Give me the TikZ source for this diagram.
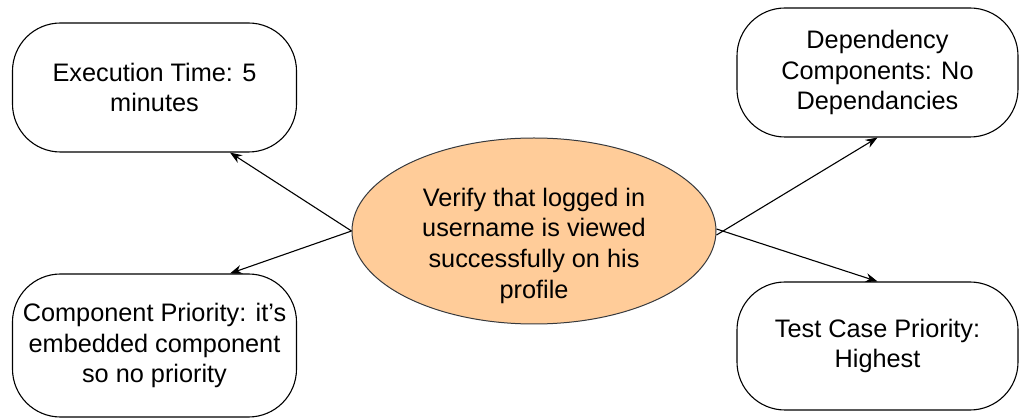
\documentclass[tikz,border=0pt]{standalone}
\usepackage{fontspec}
\setmainfont{Liberation Sans}
\usetikzlibrary{arrows.meta,shapes.geometric}
\definecolor{peach}{HTML}{FFCC99}
\definecolor{edgegray}{HTML}{36393D}

\begin{document}
\begin{tikzpicture}[
 x=1pt,y=-1pt,
 box/.style={draw,line width=1.1pt,rounded corners=48pt,fill=white,align=center,minimum width=284pt,minimum height=129pt,inner sep=2pt,font=\fontsize{25.3}{30.8}\selectfont},
 hub/.style={ellipse,draw=edgegray,line width=1pt,fill=peach,align=center,minimum width=364pt,minimum height=186pt,inner sep=0pt,font=\fontsize{25.3}{30.6}\selectfont},
 arrow/.style={-{Stealth[length=12pt,width=9pt]},line width=1.1pt}
]
\useasboundingbox (0,0) rectangle (1020,419);
% centre
\node[hub] (verify) at (534,231) {\raisebox{-15pt}[\height][\depth]{\begin{tabular}{@{}c@{}}Verify that logged in\\username is viewed\\successfully on his\\profile\end{tabular}}};
% attributes
\node[box] (exectime) at (154.5,87.5) {Execution Time: 5\\minutes};
\node[box,minimum height=143pt] (compprio) at (154.5,345.5) {Component Priority: it{\char"27}s\\embedded component\\so no priority};
\node[box,minimum width=281pt] (depend) at (877.5,72.5) {Dependency\\Components: No\\Dependancies};
\node[box,minimum width=281pt,minimum height=128pt] (caseprio) at (877.5,346) {Test Case Priority:\\Highest};
\draw[arrow] (verify.west) -- ([xshift=75.5pt]exectime.south);
\draw[arrow] (verify.west) -- ([xshift=75.5pt]compprio.north);
\draw[arrow] ([yshift=-4pt]verify.east) -- (depend.south);
\draw[arrow] ([yshift=2pt]verify.east) -- (caseprio.north);
\end{tikzpicture}
\end{document}
